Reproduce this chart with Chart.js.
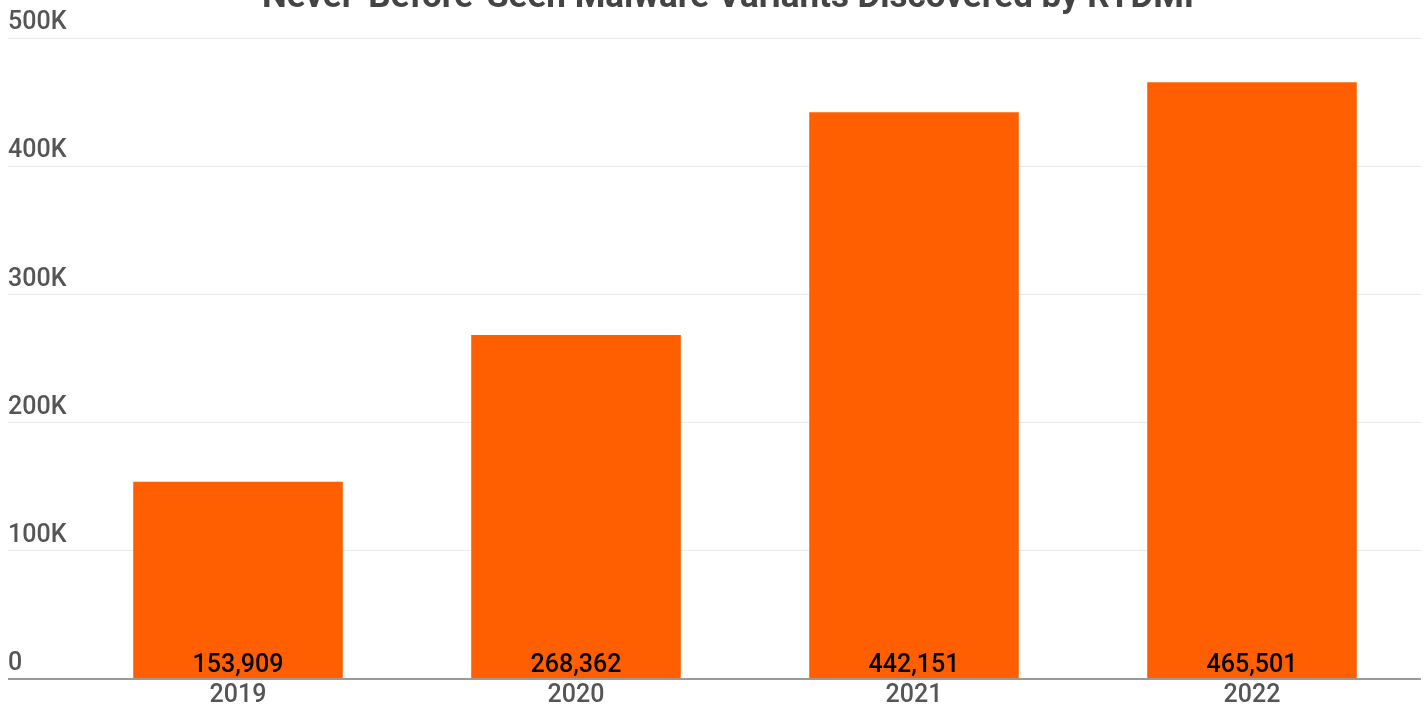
<!doctype html>
<html lang="en">
<head>
    <meta charset="utf-8">
    <title>Never-Before-Seen Malware Variants Discovered by RTDMI</title>
    <style>
        html, body { margin: 0; padding: 0; background: #fff; overflow: hidden; }
        .chartBox { width: 1427px; height: 705px; }
    </style>
</head>
<body>
    <div class="chartBox">
        <canvas id="myChart"></canvas>
    </div>

    <script src="https://cdn.jsdelivr.net/npm/chart.js"></script>
    <script>
        // data
        const years = ['2019', '2020', '2021', '2022'];
        const variants = [153909, 268362, 442151, 465501];
        const yTicks = [0, 100000, 200000, 300000, 400000, 500000];
        const titleText = 'Never-Before-Seen Malware Variants Discovered by RTDMI';

        const FONT = "Roboto, 'Noto Sans', sans-serif";

        // title sits partly above the canvas, like the original crop
        const titlePlugin = {
            id: 'cutTitle',
            afterDraw(chart) {
                const ctx = chart.ctx;
                ctx.save();
                ctx.font = "bold 35px " + FONT;
                ctx.fillStyle = '#444';
                ctx.textAlign = 'center';
                ctx.textBaseline = 'alphabetic';
                ctx.fillText(titleText, 728, 7);
                ctx.restore();
            }
        };

        // value labels at the foot of each bar
        const valuePlugin = {
            id: 'barValues',
            afterDatasetsDraw(chart) {
                const ctx = chart.ctx;
                const meta = chart.getDatasetMeta(0);
                ctx.save();
                ctx.font = "500 25px " + FONT;
                ctx.fillStyle = '#000';
                ctx.textAlign = 'center';
                ctx.textBaseline = 'alphabetic';
                meta.data.forEach((bar, i) => {
                    ctx.fillText(variants[i].toLocaleString('en-US'), bar.x, bar.base - 6);
                });
                ctx.restore();
            }
        };

        const config = {
            type: 'bar',
            data: {
                labels: years,
                datasets: [{
                    data: variants,
                    backgroundColor: '#FF5F00',
                    barPercentage: 0.62,
                    categoryPercentage: 1
                }]
            },
            options: {
                responsive: false,
                animation: false,
                layout: { padding: { top: 38, left: 8, right: 6, bottom: -8 } },
                plugins: {
                    legend: { display: false },
                    title: { display: false },
                    tooltip: { enabled: false }
                },
                scales: {
                    x: {
                        grid: { display: false, drawTicks: false, tickLength: 0 },
                        border: { display: false },
                        ticks: {
                            color: '#555',
                            padding: 2,
                            font: { family: FONT, size: 25, weight: '500' }
                        }
                    },
                    y: {
                        min: 0,
                        max: 500000,
                        afterBuildTicks: (axis) => {
                            axis.ticks = yTicks.map(v => ({ value: v }));
                        },
                        afterFit: (axis) => { axis.width = 61; },
                        border: { display: false },
                        grid: {
                            color: (c) => c.tick && c.tick.value === 0 ? '#9a9a9a' : '#ebebeb',
                            lineWidth: (c) => c.tick && c.tick.value === 0 ? 2 : 1,
                            tickColor: (c) => c.tick && c.tick.value === 0 ? '#9a9a9a' : '#ebebeb',
                            tickWidth: (c) => c.tick && c.tick.value === 0 ? 2 : 1,
                            tickLength: 61,
                            drawTicks: true
                        },
                        ticks: {
                            crossAlign: 'far',
                            labelOffset: -15,
                            padding: 0,
                            color: '#555',
                            font: { family: FONT, size: 25, weight: '500' },
                            callback: (v) => v === 0 ? '0' : (v / 1000) + 'K'
                        }
                    }
                }
            },
            plugins: [titlePlugin, valuePlugin]
        };

        const canvas = document.getElementById('myChart');
        canvas.width = 1427;
        canvas.height = 705;
        const myChart = new Chart(canvas, config);
    </script>
</body>
</html>
